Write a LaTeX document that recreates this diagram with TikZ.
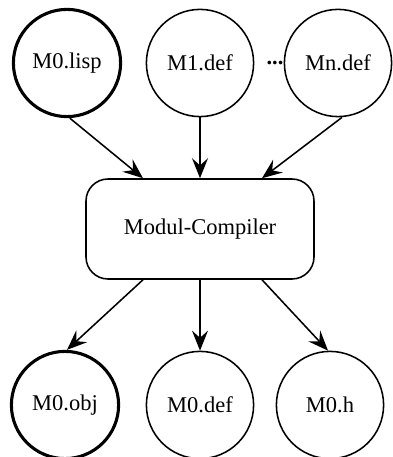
\documentclass[tikz,border=0pt]{standalone}
\usepackage{fontspec}
\setmainfont{Liberation Serif}
\usepackage{tikz}
\usetikzlibrary{positioning,calc}
\usetikzlibrary{arrows.meta}
\tikzset{file/.style={circle,draw=black,line width=1.1pt,fill=white,minimum size=2.68cm,inner sep=0pt,font=\fontsize{16}{19}\selectfont}, mainfile/.style={file,line width=2.2pt}, comp/.style={rectangle,rounded corners=0.55cm,draw=black,line width=1.1pt,minimum width=5.7cm,minimum height=2.5cm,font=\fontsize{16}{19}\selectfont}, flow/.style={line width=1.1pt,-{Stealth[length=5mm,width=4mm,inset=1.8mm]}}}

\begin{document}
\begin{tikzpicture}
\useasboundingbox (0,0) rectangle (9.8,11.425);
\coordinate (plisp) at (1.675,9.85);
\coordinate (pone) at (5.0,9.85);
\coordinate (pn) at (8.45,9.85);
\coordinate (pcomp) at (5.0,5.7);
\coordinate (pobj) at (1.625,1.3);
\coordinate (pdef) at (5.0,1.3);
\coordinate (ph) at (8.25,1.3);
\node[mainfile] (lisp) at (plisp) {M0.lisp};
\node[file] (one) at (pone) {M1.def};
\node[file] (n) at (pn) {Mn.def};
\node[font=\fontsize{16}{19}\selectfont\bfseries] (dots) at (6.875,9.85) {...};
\node[comp] (mc) at (pcomp) {Modul-Compiler};
\node[mainfile] (obj) at (pobj) {M0.obj};
\node[file] (def) at (pdef) {M0.def};
\node[file] (h) at (ph) {M0.h};
\draw[flow] ([xshift=0.07cm]lisp.south) -- ([xshift=-1.425cm]mc.north);
\draw[flow] (one.south) -- (mc.north);
\draw[flow] ([xshift=0.1cm]n.south) -- ([xshift=1.55cm]mc.north);
\draw[flow] ([xshift=-1.425cm]mc.south) -- ([xshift=0.05cm]obj.north);
\draw[flow] (mc.south) -- (def.north);
\draw[flow] ([xshift=1.55cm]mc.south) -- ([xshift=-0.05cm]h.north);
\end{tikzpicture}
\end{document}
